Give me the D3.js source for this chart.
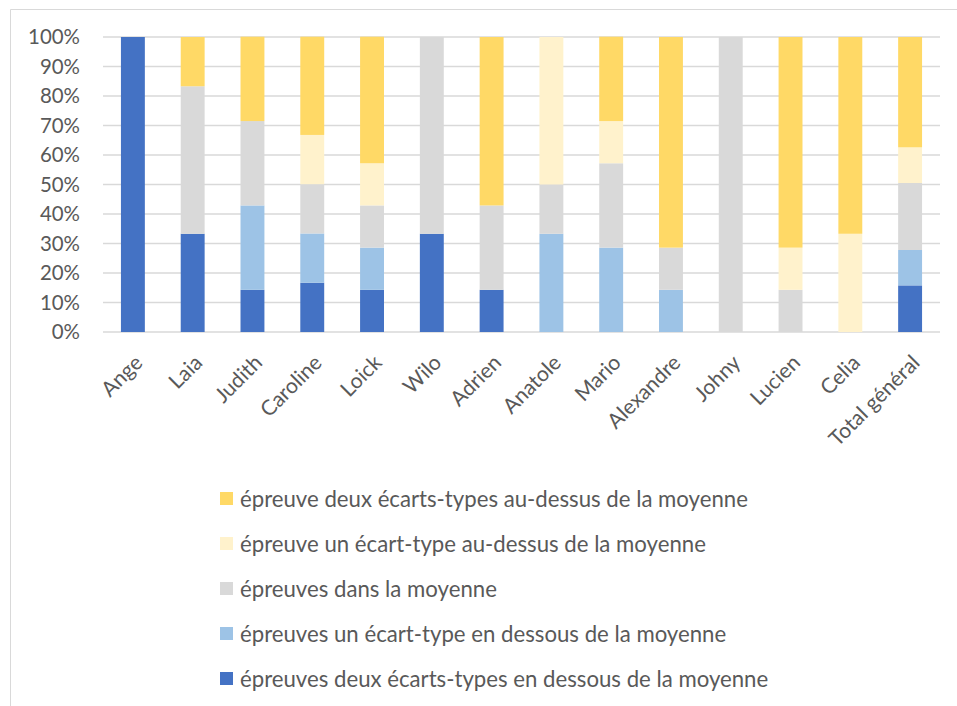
<!DOCTYPE html>
<html><head><meta charset="utf-8">
<script src="https://cdn.jsdelivr.net/npm/d3@7"></script>
<style>body{margin:0;background:#fff}svg{display:block}text{font-family:Lato,"Open Sans",sans-serif;fill:#595959}</style>
</head><body>
<svg id="c" width="957" height="706"></svg>
<script>
const categories = ["Ange","Laia","Judith","Caroline","Loick","Wilo","Adrien","Anatole","Mario","Alexandre","Johny","Lucien","Celia","Total général"];
const seriesNames = [
  "épreuves deux écarts-types en dessous de la moyenne",
  "épreuves un écart-type en dessous de la moyenne",
  "épreuves dans la moyenne",
  "épreuve un écart-type au-dessus de la moyenne",
  "épreuve deux écarts-types au-dessus de la moyenne"
];
const deuxDessous = [1, 0.333, 0.143, 0.167, 0.143, 0.333, 0.143, 0, 0, 0, 0, 0, 0, 0.158];
const unDessous   = [0, 0, 0.286, 0.167, 0.143, 0, 0, 0.333, 0.286, 0.143, 0, 0, 0, 0.120];
const dansMoyenne = [0, 0.5, 0.286, 0.167, 0.143, 0.667, 0.286, 0.167, 0.286, 0.143, 1, 0.143, 0, 0.227];
const unDessus    = [0, 0, 0, 0.167, 0.143, 0, 0, 0.5, 0.143, 0, 0, 0.143, 0.333, 0.121];
const deuxDessus  = [0, 0.167, 0.286, 0.333, 0.429, 0, 0.571, 0, 0.286, 0.714, 0, 0.714, 0.667, 0.374];
const yTicks = [0,0.1,0.2,0.3,0.4,0.5,0.6,0.7,0.8,0.9,1];
const colors = ["#4472C4","#9DC3E6","#D9D9D9","#FFF2CC","#FFD966"];

const seriesValues = [deuxDessous, unDessous, dansMoyenne, unDessus, deuxDessus];
const rows = categories.map((c,i)=>{const o={cat:c}; seriesNames.forEach((s,k)=>o[s]=seriesValues[k][i]); return o;});
const stacked = d3.stack().keys(seriesNames)(rows);

const svg = d3.select("#c");
svg.append("path").attr("d","M10.5,706 V9.5 H957").attr("fill","none").attr("stroke","#D9D9D9").attr("stroke-width",1);

const x = d3.scaleBand().domain(categories).range([103,940]).paddingInner(0.6).paddingOuter(0.3);
const y = d3.scaleLinear().domain([0,1]).range([332,37]);

function fitSize(str, target){
  const p = svg.append("text").attr("font-size",20).text(str);
  const w = p.node().getComputedTextLength(); p.remove();
  return 20*target/w;
}
const fsLegend = fitSize(seriesNames[4], 508);
const fsY = fitSize("100%", 52);
const fsX = fitSize("Total général", 118);

svg.append("g").selectAll("line").data(yTicks).join("line")
  .attr("x1",103).attr("x2",940).attr("y1",d=>y(d)).attr("y2",d=>y(d))
  .attr("stroke","#D9D9D9").attr("stroke-width",1.5);

const yAxis = svg.append("g").attr("transform","translate(80,0)")
  .call(d3.axisLeft(y).tickValues(yTicks).tickFormat(d3.format(".0%")).tickSize(0).tickPadding(0));
yAxis.select(".domain").remove();
yAxis.selectAll("text").attr("font-size",fsY).attr("fill","#595959").attr("font-family","Lato");

svg.append("g").selectAll("g").data(stacked).join("g")
  .attr("fill",(d,i)=>colors[i])
  .selectAll("rect").data(d=>d).join("rect")
  .attr("x",d=>x(d.data.cat)).attr("width",x.bandwidth())
  .attr("y",d=>y(d[1])).attr("height",d=>y(d[0])-y(d[1]));

const xAxis = svg.append("g").attr("transform","translate(0,332)")
  .call(d3.axisBottom(x).tickSize(0).tickPadding(0));
xAxis.select(".domain").remove();
xAxis.selectAll("text").attr("font-size",fsX).attr("fill","#595959").attr("font-family","Lato")
  .attr("text-anchor","end").attr("dy",0)
  .attr("transform","translate(11,32) rotate(-45)");

const legOrder = [4,3,2,1,0];
const lg = svg.append("g").selectAll("g").data(legOrder).join("g")
  .attr("transform",(d,i)=>`translate(220,${499+i*45})`);
lg.append("rect").attr("x",0).attr("y",-7).attr("width",13).attr("height",13).attr("fill",d=>colors[d]);
lg.append("text").attr("x",20).attr("y",0).attr("dy","0.35em").attr("font-size",fsLegend).text(d=>seriesNames[d]);
</script>
</body></html>
